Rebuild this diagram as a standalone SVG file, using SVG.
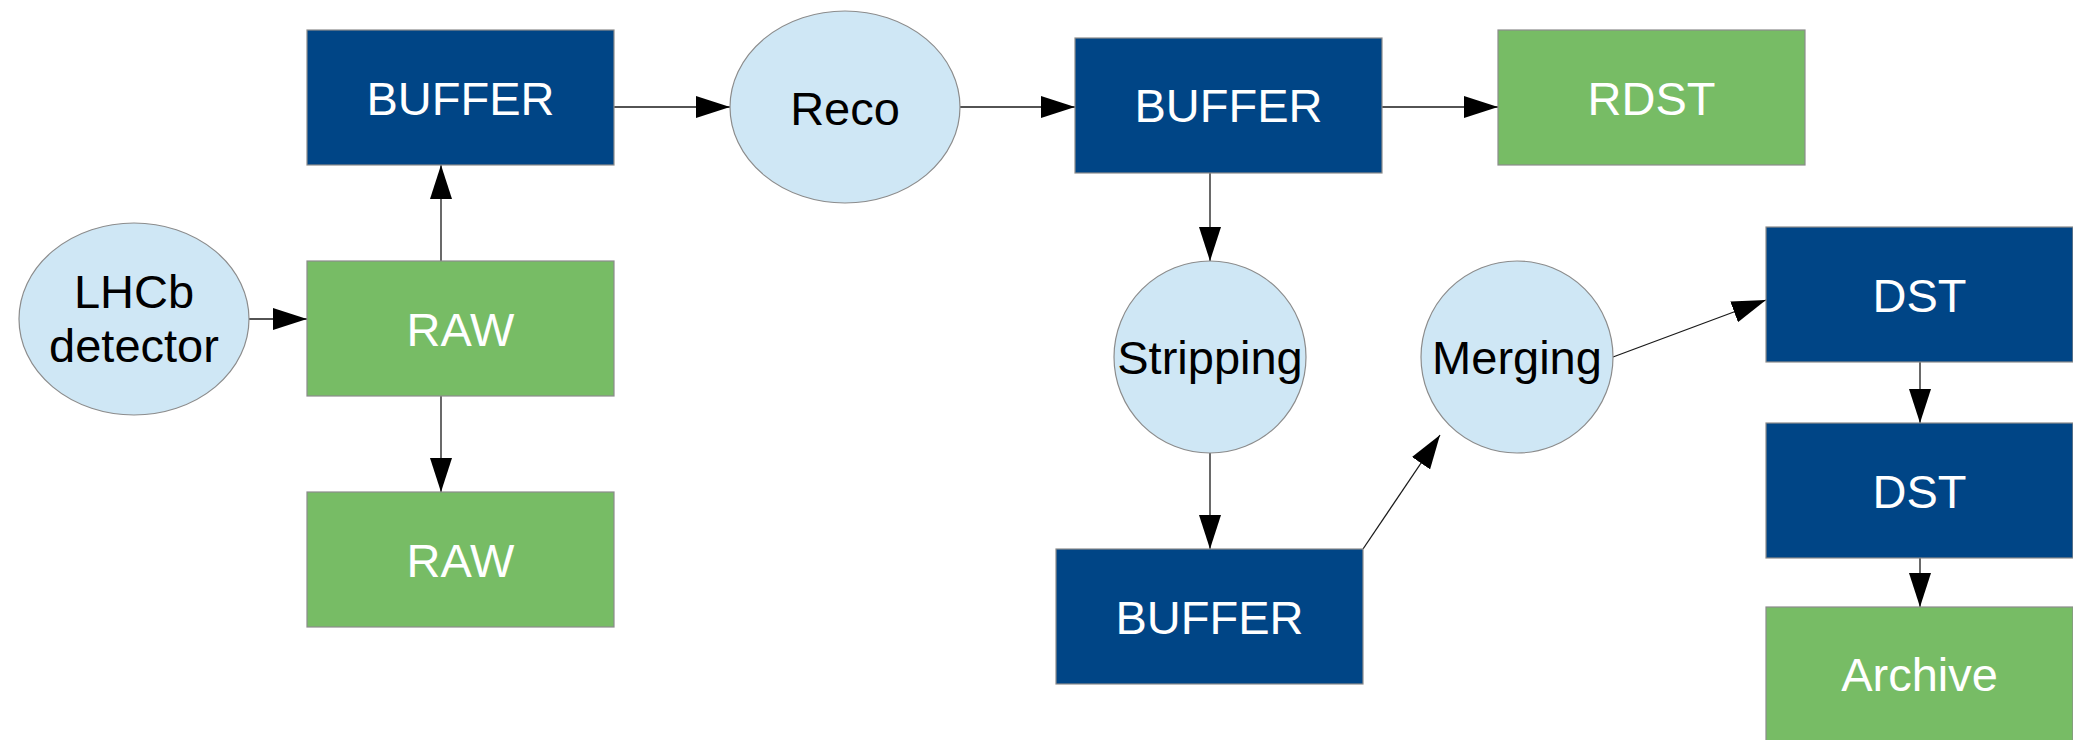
<svg xmlns="http://www.w3.org/2000/svg" width="2073" height="740" viewBox="0 0 2073 740">
  <defs>
    <style>
      .store { fill: #004586; stroke: #8c8c8c; stroke-width: 1.2; }
      .file { fill: #77bc65; stroke: #8c8c8c; stroke-width: 1.2; }
      .step { fill: #cfe7f5; stroke: #8c8c8c; stroke-width: 1.2; }
      .lbl { font-family: "Liberation Sans", Arial, sans-serif; font-size: 47px; text-anchor: middle; }
      .light { fill: #ffffff; }
      .dark { fill: #000000; }
      .edge { stroke: #1a1a1a; stroke-width: 1.3; fill: none; marker-end: url(#head); }
    </style>
    <marker id="head" viewBox="0 0 34 22" refX="34" refY="11" markerWidth="34" markerHeight="22" markerUnits="userSpaceOnUse" orient="auto">
      <path d="M0,0 L34,11 L0,22 Z" fill="#000000"/>
    </marker>
  </defs>

  <rect width="2073" height="740" fill="#ffffff"/>

  <!-- connectors -->
  <g id="connectors">
    <line class="edge" x1="249" y1="319" x2="307" y2="319"/>
    <line class="edge" x1="441" y1="261" x2="441" y2="165"/>
    <line class="edge" x1="441" y1="396" x2="441" y2="492"/>
    <line class="edge" x1="614" y1="107" x2="730" y2="107"/>
    <line class="edge" x1="960" y1="107" x2="1075" y2="107"/>
    <line class="edge" x1="1382" y1="107" x2="1498" y2="107"/>
    <line class="edge" x1="1210" y1="173" x2="1210" y2="261"/>
    <line class="edge" x1="1210" y1="453" x2="1210" y2="549"/>
    <line class="edge" x1="1363" y1="549" x2="1440" y2="435"/>
    <line class="edge" x1="1613" y1="357" x2="1766" y2="300"/>
    <line class="edge" x1="1920" y1="362" x2="1920" y2="423"/>
    <line class="edge" x1="1920" y1="558" x2="1920" y2="607"/>
  </g>

  <!-- nodes -->
  <g id="lhcb">
    <ellipse class="step" cx="134" cy="319" rx="115" ry="96"/>
    <text class="lbl dark" x="134" y="308">LHCb</text>
    <text class="lbl dark" x="134" y="362">detector</text>
  </g>
  <g id="raw-online">
    <rect class="file" x="307" y="261" width="307" height="135"/>
    <text class="lbl light" x="460.5" y="345.5">RAW</text>
  </g>
  <g id="raw-archive">
    <rect class="file" x="307" y="492" width="307" height="135"/>
    <text class="lbl light" x="460.5" y="576.5">RAW</text>
  </g>
  <g id="buffer-raw">
    <rect class="store" x="307" y="30" width="307" height="135"/>
    <text class="lbl light" x="460.5" y="114.5">BUFFER</text>
  </g>
  <g id="reco">
    <ellipse class="step" cx="845" cy="107" rx="115" ry="96"/>
    <text class="lbl dark" x="845" y="125">Reco</text>
  </g>
  <g id="buffer-reco">
    <rect class="store" x="1075" y="38" width="307" height="135"/>
    <text class="lbl light" x="1228.5" y="122">BUFFER</text>
  </g>
  <g id="rdst">
    <rect class="file" x="1498" y="30" width="307" height="135"/>
    <text class="lbl light" x="1651.5" y="114.5">RDST</text>
  </g>
  <g id="stripping">
    <circle class="step" cx="1210" cy="357" r="96"/>
    <text class="lbl dark" x="1210" y="374">Stripping</text>
  </g>
  <g id="buffer-strip">
    <rect class="store" x="1056" y="549" width="307" height="135"/>
    <text class="lbl light" x="1209.5" y="633.5">BUFFER</text>
  </g>
  <g id="merging">
    <circle class="step" cx="1517" cy="357" r="96"/>
    <text class="lbl dark" x="1517" y="374">Merging</text>
  </g>
  <g id="dst-merged">
    <rect class="store" x="1766" y="227" width="307" height="135"/>
    <text class="lbl light" x="1919.5" y="311.5">DST</text>
  </g>
  <g id="dst-copy">
    <rect class="store" x="1766" y="423" width="307" height="135"/>
    <text class="lbl light" x="1919.5" y="507.5">DST</text>
  </g>
  <g id="archive">
    <rect class="file" x="1766" y="607" width="307" height="135"/>
    <text class="lbl light" x="1919.5" y="691">Archive</text>
  </g>
</svg>
